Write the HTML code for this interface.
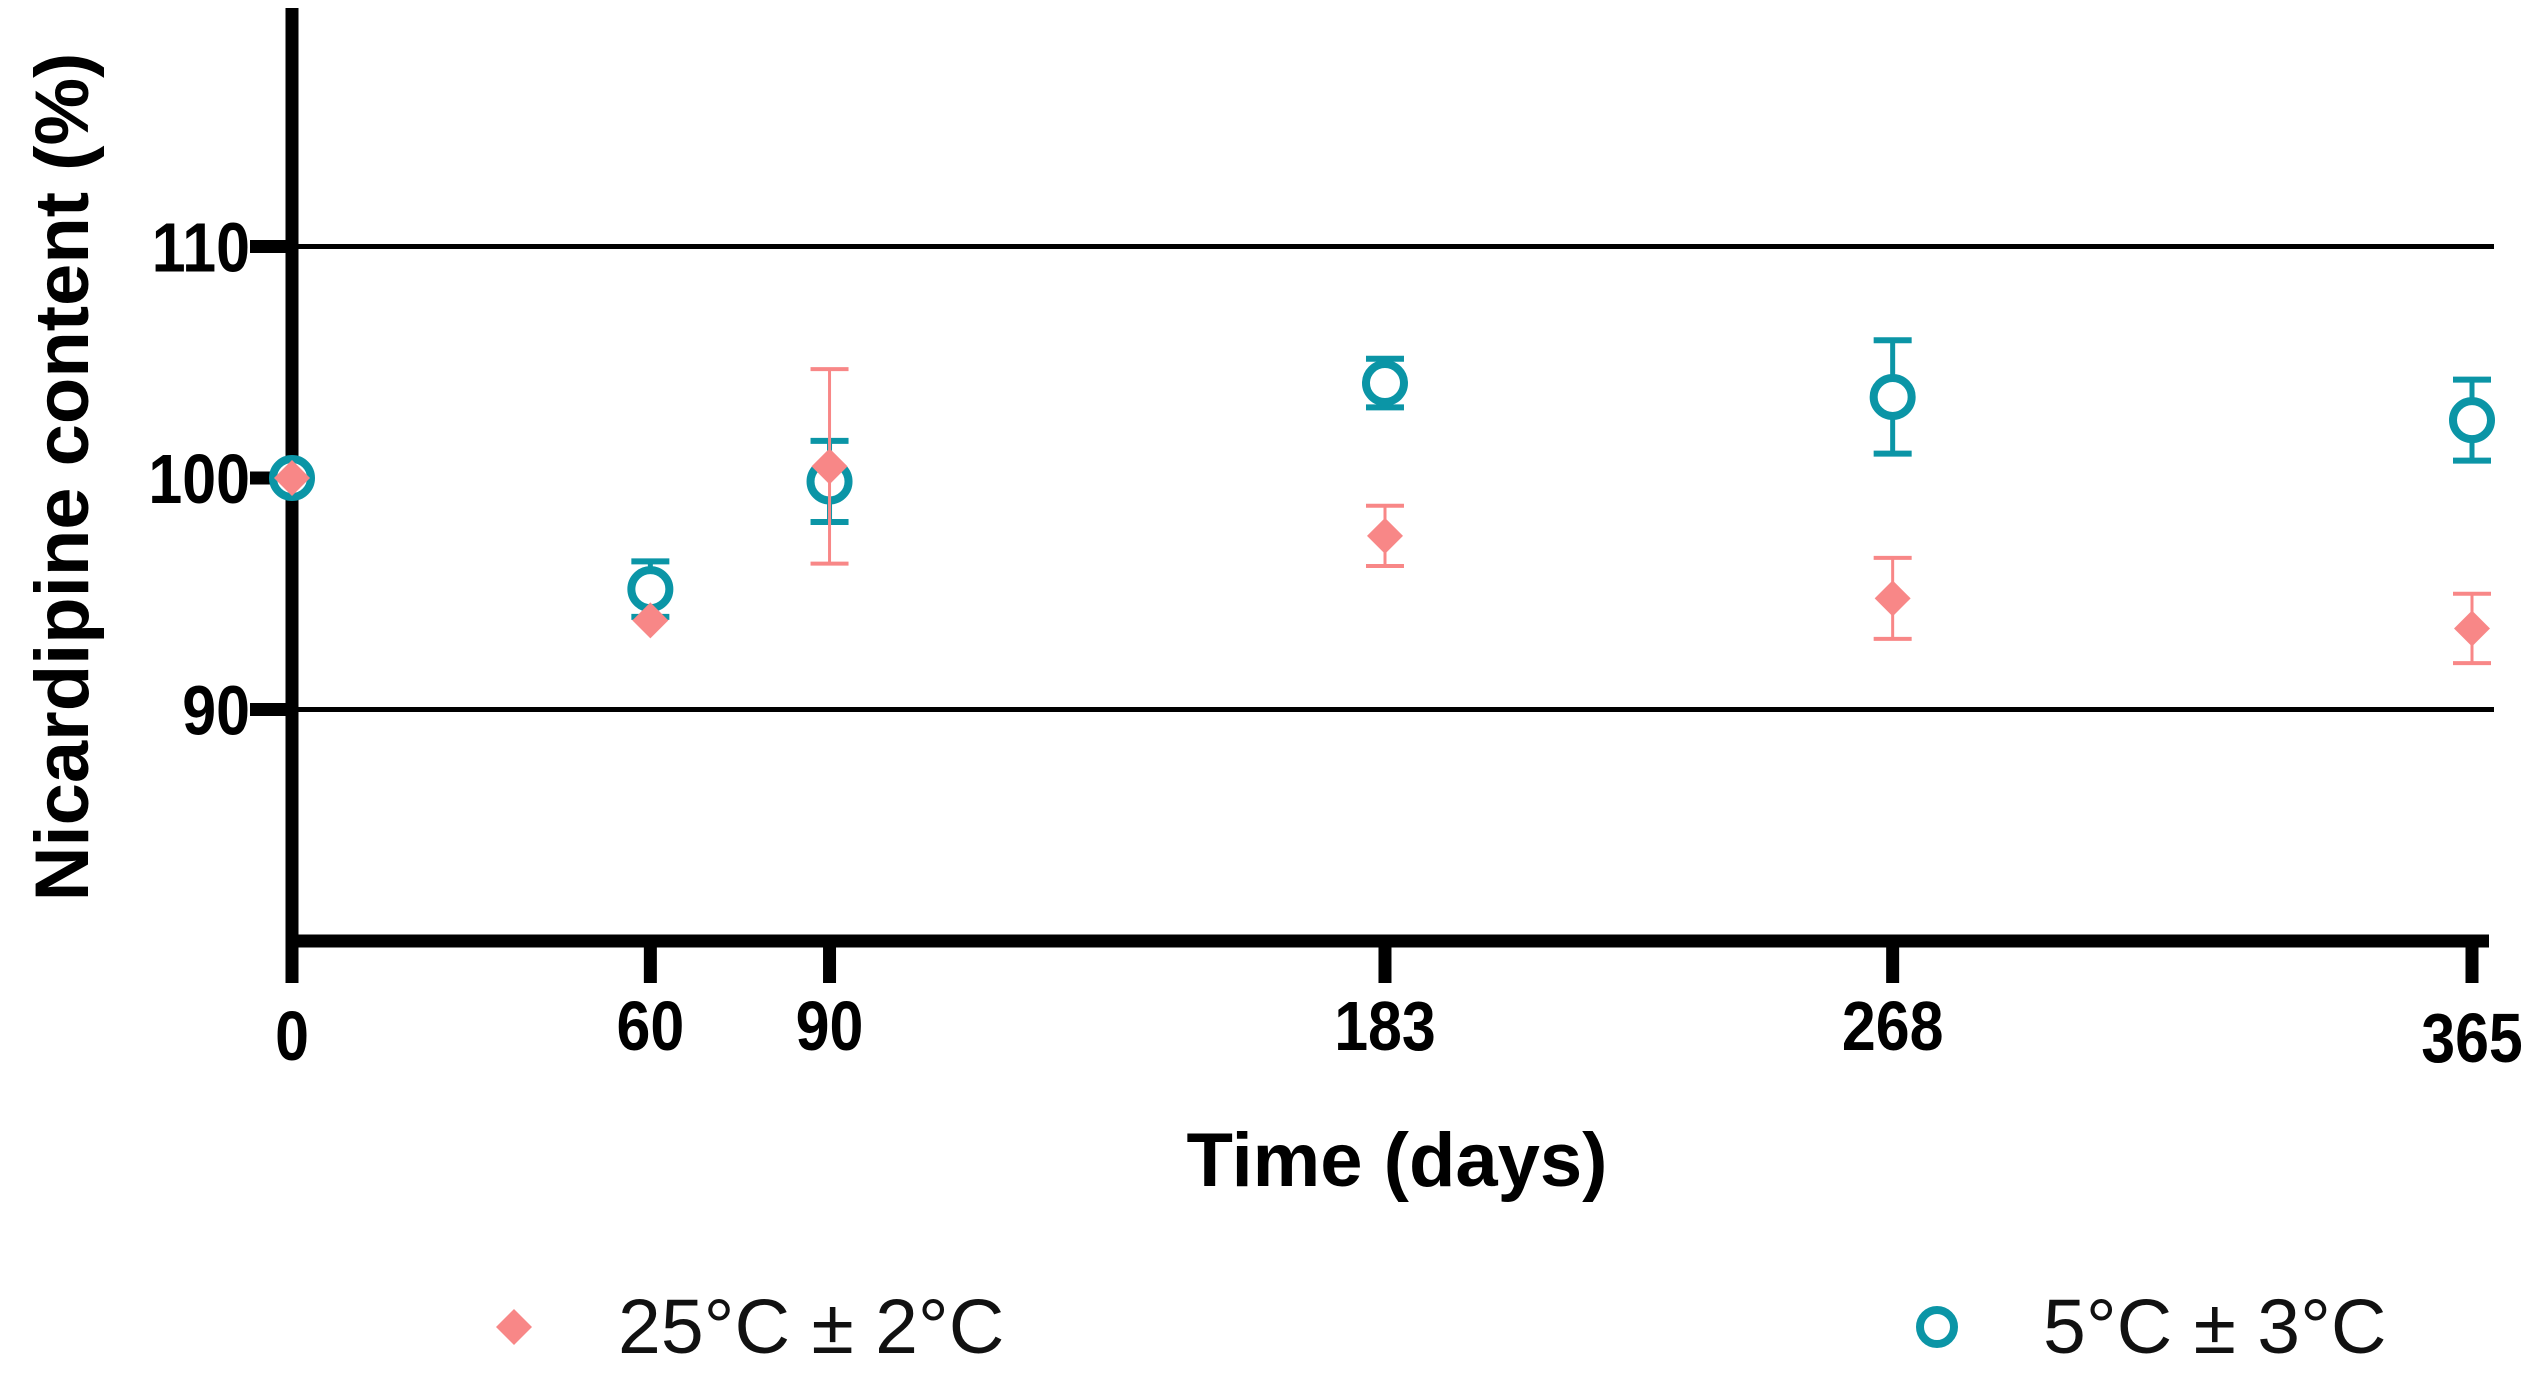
<!DOCTYPE html>
<html><head><meta charset="utf-8"><style>
html,body{margin:0;padding:0;background:#fff;}
svg text{font-family:"Liberation Sans",Arial,sans-serif;}
</style></head><body>
<svg id="chart" width="2540" height="1372" viewBox="0 0 2540 1372" xmlns="http://www.w3.org/2000/svg">
<g id="grid"></g>
<g id="axes"></g>
<g id="marks"></g>
<text transform="translate(88,477) rotate(-90)" text-anchor="middle" font-size="76" font-weight="bold" fill="#000">Nicardipine content (%)</text>
<text x="1397" y="1186" text-anchor="middle" font-size="76" font-weight="bold" fill="#000">Time (days)</text>
<g>
  <polygon points="514,1309 532,1327 514,1345 496,1327" fill="#f88787"/>
  <text x="618" y="1353" font-size="77" fill="#111">25°C ± 2°C</text>
  <circle cx="1937" cy="1327" r="17" fill="none" stroke="#0b95a6" stroke-width="8"/>
  <text x="2043" y="1353" font-size="77" fill="#111">5°C ± 3°C</text>
</g>
</svg>
<script>
const days = [0, 60, 90, 183, 268, 365];
const xTickLabels = ["0", "60", "90", "183", "268", "365"];
const yTicks = [90, 100, 110];
const warmMean = [100, 93.85, 100.5, 97.5, 94.8, 93.5];
const warmErr = [0, 0, 4.2, 1.3, 1.75, 1.5];
const coldMean = [100, 95.2, 99.85, 104.1, 103.5, 102.5];
const coldErr = [0, 1.2, 1.75, 1.05, 2.45, 1.75];

const NS = "http://www.w3.org/2000/svg";
const X0 = 292, X1 = 2472, Y0 = 941, Y1 = 8;
const xDomain = [0, 365], yDomain = [80, 120.3];
function xs(v){ return X0 + (v - xDomain[0]) / (xDomain[1] - xDomain[0]) * (X1 - X0); }
function ys(v){ return Y0 - (v - yDomain[0]) / (yDomain[1] - yDomain[0]) * (Y0 - Y1); }
function mk(tag, attrs, parent){
  const e = document.createElementNS(NS, tag);
  for (const k in attrs) e.setAttribute(k, attrs[k]);
  parent.appendChild(e);
  return e;
}
const grid = document.getElementById('grid');
const axes = document.getElementById('axes');
const marks = document.getElementById('marks');

yTicks.forEach(t => {
  if (t !== 100) {
    const g = mk('line', {x1: X0, x2: 2494, y1: ys(t), y2: ys(t), stroke: '#000', 'stroke-width': 5}, grid);
    
    
  }
  const tk = mk('line', {x1: 250, x2: X0, y1: ys(t), y2: ys(t), stroke: '#000', 'stroke-width': 13}, axes);
  
  
  const ly = ys(t) + 25;
  const lb = mk('text', {x: 0, y: 0, 'text-anchor': 'end', 'font-size': 70, 'font-weight': 'bold', fill: '#000', transform: `translate(250,${ly}) scale(0.87,1)`}, axes);
  lb.textContent = String(t);
  
  
});
const ya = mk('line', {x1: X0, x2: X0, y1: Y1, y2: Y0 + 6, stroke: '#000', 'stroke-width': 13}, axes);


const xa = mk('line', {x1: X0 - 6, x2: 2489, y1: Y0, y2: Y0, stroke: '#000', 'stroke-width': 13}, axes);


days.forEach((d, i) => {
  const tk = mk('line', {x1: xs(d), x2: xs(d), y1: Y0, y2: 983, stroke: '#000', 'stroke-width': 13}, axes);
  
  
  const by = i === 0 ? 1060 : (i === days.length - 1 ? 1062 : 1050);
  const lb = mk('text', {x: 0, y: 0, 'text-anchor': 'middle', 'font-size': 70, 'font-weight': 'bold', fill: '#000', transform: `translate(${xs(d)},${by}) scale(0.87,1)`}, axes);
  lb.textContent = xTickLabels[i];
  
  
});

function errBar(x, m, e, color, w, name){
  if (e <= 0) return;
  const g = mk('g', {}, marks);
  
  
  mk('line', {x1: x, x2: x, y1: ys(m + e), y2: ys(m - e), stroke: color, 'stroke-width': w}, g);
  mk('line', {x1: x - 19, x2: x + 19, y1: ys(m + e), y2: ys(m + e), stroke: color, 'stroke-width': w + 1}, g);
  mk('line', {x1: x - 19, x2: x + 19, y1: ys(m - e), y2: ys(m - e), stroke: color, 'stroke-width': w + 1}, g);
}
days.forEach((d, i) => {
  const x = xs(d);
  errBar(x, coldMean[i], coldErr[i], '#0b95a6', 5, 'error-bar-5c-day' + d);
  const c = mk('circle', {cx: x, cy: ys(coldMean[i]), r: 19, fill: '#fff', stroke: '#0b95a6', 'stroke-width': 8}, marks);
  
  
});
days.forEach((d, i) => {
  const x = xs(d);
  errBar(x, warmMean[i], warmErr[i], '#f88787', 3, 'error-bar-25c-day' + d);
  const y = ys(warmMean[i]);
  const p = mk('polygon', {points: `${x},${y-18} ${x+18},${y} ${x},${y+18} ${x-18},${y}`, fill: '#f88787'}, marks);
  
  
});
</script>
</body></html>
